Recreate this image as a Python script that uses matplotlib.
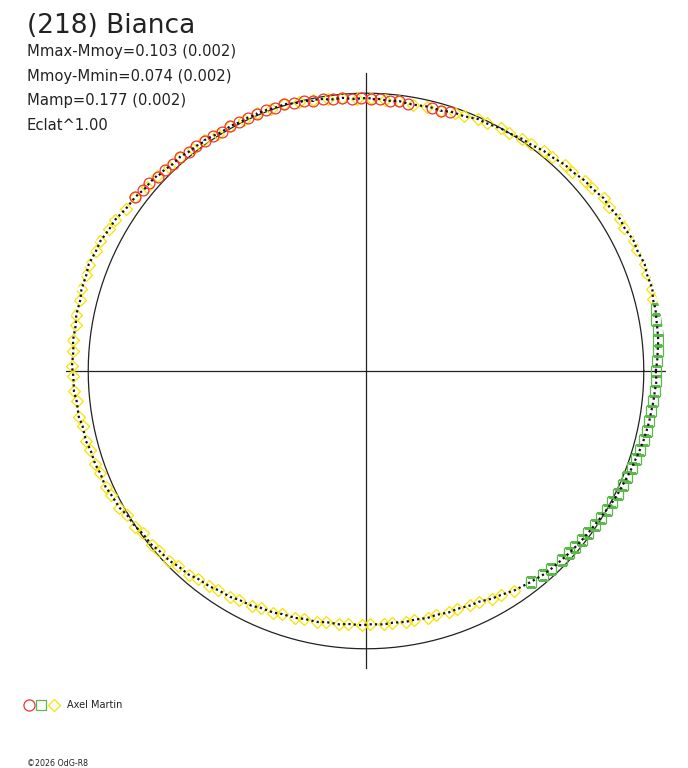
import numpy as np
import matplotlib
matplotlib.use("Agg")
import matplotlib.pyplot as plt
from matplotlib.lines import Line2D

plt.rcParams['font.family'] = ['DejaVu Sans']

# rotational phase (deg) and magnitude difference to mean, per observer symbol
red_phase = [143, 141, 139, 137, 135, 133, 131, 129, 127, 125, 123, 121, 119, 117, 115, 113,
             111, 109, 107, 105, 103, 101, 99, 97, 95, 93, 91, 89, 87, 85, 83, 81, 76, 74, 72]
red_dmag = [-0.043, -0.036, -0.035, -0.028, -0.027, -0.021, -0.022, -0.016, -0.016, -0.011,
            -0.011, -0.006, -0.008, -0.005, -0.007, -0.004, -0.006, -0.003, -0.004, 0.003,
            0.002, 0.010, 0.009, 0.016, 0.014, 0.021, 0.019, 0.024, 0.021, 0.026, 0.023,
            0.028, 0.025, 0.028, 0.020]

green_phase = [12, 10, 8, 6, 4, 2, 0, 358, 356, 354, 352, 350, 348, 346, 344, 342, 340,
               338, 336, 334, 332, 330, 328, 326, 324, 322, 320, 318, 316, 313, 311, 308]
green_dmag = [-0.069, -0.065, -0.063, -0.061, -0.056, -0.052, -0.046, -0.049, -0.045, -0.043,
              -0.040, -0.038, -0.035, -0.032, -0.028, -0.023, -0.020, -0.016, -0.012, -0.009,
              -0.005, 0.000, 0.004, 0.008, 0.011, 0.014, 0.017, 0.020, 0.023, 0.027, 0.031, 0.040]

yellow_phase = [14, 16, 19, 21, 24, 26, 29, 31, 34, 36, 39, 41, 44, 46, 49, 51, 54, 56, 59, 61,
                64, 66, 69, 71, 74, 77, 80, 83, 86, 89, 92, 95, 98, 101, 104, 107, 110, 113,
                116, 119, 122, 125, 128, 131, 134, 137, 140, 143, 146, 149, 151, 154, 156, 159,
                161, 164, 166, 169, 171, 174, 176, 179, 181, 184, 186, 189, 191, 194, 196, 199,
                201, 204, 206, 209, 211, 214, 216, 219, 221, 224, 226, 229, 231, 234, 236, 239,
                241, 244, 246, 249, 251, 254, 256, 259, 261, 264, 266, 269, 271, 274, 276, 279,
                281, 284, 286, 289, 291, 294, 296, 299, 301, 304]
yellow_dmag = [-0.068, -0.076, -0.073, -0.078, -0.072, -0.075, -0.067, -0.069, -0.060, -0.061,
               -0.049, -0.047, -0.035, -0.034, -0.022, -0.020, -0.009, -0.008, 0.001, 0.001,
               0.009, 0.008, 0.019, 0.019, 0.027, 0.025, 0.029, 0.023, 0.025, 0.020, 0.022,
               0.014, 0.014, 0.006, 0.004, -0.005, -0.003, -0.008, -0.005, -0.009, -0.007,
               -0.015, -0.015, -0.023, -0.023, -0.032, -0.033, -0.043, -0.046, -0.058, -0.059,
               -0.068, -0.067, -0.073, -0.068, -0.069, -0.063, -0.066, -0.061, -0.064, -0.059,
               -0.062, -0.057, -0.057, -0.050, -0.050, -0.042, -0.042, -0.034, -0.033, -0.027,
               -0.028, -0.021, -0.016, -0.005, -0.002, 0.006, 0.007, 0.015, 0.018, 0.027, 0.031,
               0.042, 0.046, 0.054, 0.057, 0.065, 0.067, 0.075, 0.077, 0.084, 0.085, 0.091,
               0.090, 0.096, 0.094, 0.099, 0.096, 0.100, 0.097, 0.101, 0.097, 0.100, 0.095,
               0.098, 0.092, 0.094, 0.086, 0.085, 0.071, 0.066, 0.052]

title = "(218) Bianca"
info_lines = ["Mmax-Mmoy=0.103 (0.002)", "Mmoy-Mmin=0.074 (0.002)",
              "Mamp=0.177 (0.002)", "Eclat^1.00"]
observer = "Axel Martin"
credit = "\u00a92026 OdG-R8"


def to_polar(phase, dmag):
    th = np.deg2rad(np.asarray(phase, float))
    r = 10 ** (-0.4 * np.asarray(dmag, float))
    return th, r


W, H = 688, 768
fig = plt.figure(figsize=(W / 100, H / 100), dpi=100)
cx, cy, R = 366, 371, 300
ax = fig.add_axes([(cx - R) / W, (H - cy - R) / H, 2 * R / W, 2 * R / H], projection='polar')
ax.set_ylim(0, 1.08)
ax.grid(False)
ax.set_xticks([])
ax.set_yticks([])
ax.spines['polar'].set_visible(False)
ax.patch.set_alpha(0)

# cross and mean circle
for a, L in [(0, 1.079), (np.pi, 1.079), (np.pi / 2, 1.072), (-np.pi / 2, 1.07)]:
    ax.plot([a, a], [0, L], color='#222222', lw=0.9)
circ = np.linspace(0, 2 * np.pi, 361)
ax.plot(circ, np.ones_like(circ), color='#222222', lw=0.9)

ty, ry = to_polar(yellow_phase, yellow_dmag)
tg, rg = to_polar(green_phase, green_dmag)
tr, rr = to_polar(red_phase, red_dmag)

ax.plot(ty, ry, 'D', ms=6.0, mfc='none', mec='#f5e300', mew=0.9)
ax.plot(tg, rg, 's', ms=6.6, mfc='none', mec='#5cb84a', mew=0.9)
ax.plot(tr, rr, 'o', ms=7.8, mfc='none', mec='#ee3333', mew=0.9)

# all points joined in phase order, drawn as black dots
t_all = np.concatenate([ty, tg, tr])
r_all = np.concatenate([ry, rg, rr])
order = np.argsort(t_all)
t_all = np.append(t_all[order], t_all[order][0] + 2 * np.pi)
r_all = np.append(r_all[order], r_all[order][0])
ax.plot(t_all, r_all, color='#111111', lw=1.6, ls=(0, (1, 1.4)))

txt_col = '#222222'
fig.text(27 / W, 1 - 33 / H, title, fontsize=19, color=txt_col, va='baseline')
for i, s in enumerate(info_lines):
    fig.text(27 / W, 1 - (56 + 24.7 * i) / H, s, fontsize=10.6, color=txt_col, va='baseline')

# legend
for x, m, ms, c in [(29, 'o', 8, '#ee3333'), (41, 's', 6.5, '#5cb84a'), (54, 'D', 5.8, '#f5e300')]:
    fig.add_artist(Line2D([x / W], [1 - 704.5 / H], marker=m, ms=ms, mfc='none', mec=c,
                          mew=0.9, transform=fig.transFigure))
fig.text(67 / W, 1 - 708.5 / H, observer, fontsize=7, color=txt_col, va='baseline')
fig.text(27 / W, 1 - 765.5 / H, credit, fontsize=5.7, color=txt_col, va='baseline')

fig.savefig('out.png', dpi=100)
